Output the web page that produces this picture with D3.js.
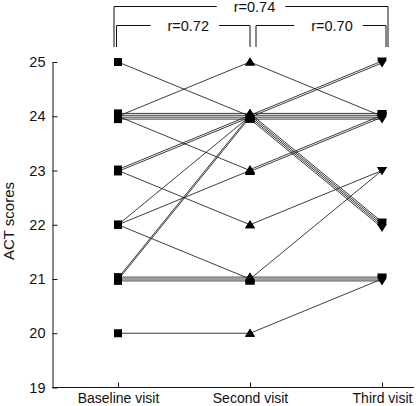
<!DOCTYPE html>
<html>
<head>
<meta charset="utf-8">
<script src="https://cdn.jsdelivr.net/npm/d3@7"></script>
<style>
  html, body { margin: 0; padding: 0; background: #fff; }
  svg { display: block; font-family: "Liberation Sans", Arial, sans-serif; }
</style>
</head>
<body>
<svg id="chart" width="416" height="406"></svg>
<script>
// ---- data ----
const visits = ["Baseline visit", "Second visit", "Third visit"];
const yTicks = [19, 20, 21, 22, 23, 24, 25];
// ACT scores per patient at each visit
const baseline = [24, 25, 24, 24, 24, 24, 23, 23, 22, 21, 21, 24, 22, 23, 22, 21, 21, 21, 20];
const second   = [25, 24, 24, 24, 24, 24, 24, 24, 24, 24, 24, 23, 23, 22, 21, 21, 21, 21, 20];
const third    = [24, 22, 24, 24, 24, 24, 25, 22, 22, 25, 22, 24, 24, 23, 21, 21, 21, 23, 21];
const corrLabels = ["r=0.74", "r=0.72", "r=0.70"];
const corrPairs = [["Baseline visit", "Third visit"], ["Baseline visit", "Second visit"], ["Second visit", "Third visit"]];
const yTitle = "ACT scores";

// ---- layout ----
const narrow = "'Liberation Sans Narrow', 'Arial Narrow', 'Liberation Sans', Arial, sans-serif";
const svg = d3.select("#chart");
const plotLeft = 52.5, plotBottom = 387.5, plotTop = 62;
const x = d3.scalePoint().domain(visits).range([118, 382]);
const y = d3.scaleLinear().domain([19, 25]).range([plotBottom, plotTop]);

// y axis
const yAxis = d3.axisLeft(y).tickValues(yTicks).tickFormat(d3.format("d"))
  .tickSizeInner(-5).tickSizeOuter(0).tickPadding(7);
const gy = svg.append("g").attr("transform", `translate(${plotLeft},0)`).call(yAxis);
gy.selectAll("text").attr("font-size", 14.5).attr("fill", "#111").attr("font-family", narrow);
gy.selectAll("line,path").attr("stroke", "#111");

// x axis
const xAxis = d3.axisBottom(x).tickSizeInner(-5).tickSizeOuter(0).tickPadding(6);
const gx = svg.append("g").attr("transform", `translate(0,${plotBottom})`).call(xAxis);
gx.select(".domain").remove();
gx.append("line").attr("x1", plotLeft).attr("x2", 414).attr("y1", 0).attr("y2", 0).attr("stroke", "#111");
gx.selectAll("text").attr("font-size", 14).attr("fill", "#111").attr("font-family", narrow);
gx.selectAll(".tick line").attr("stroke", "#111");

// y title
svg.append("text")
  .attr("transform", `translate(14,221) rotate(-90)`)
  .attr("text-anchor", "middle")
  .attr("font-size", 15).attr("fill", "#111")
  .text(yTitle);

// ---- segments with small offsets for overlapping lines ----
const series = [baseline, second, third];
const segs = [];
for (let v = 0; v < 2; v++) {
  const groups = d3.group(d3.range(baseline.length), i => series[v][i] + "_" + series[v + 1][i]);
  for (const [, idx] of groups) {
    const n = idx.length;
    idx.forEach((i, k) => {
      segs.push({ v, a: series[v][i], b: series[v + 1][i], off: (k - (n - 1) / 2) * 1.9 });
    });
  }
}

const plot = svg.append("g");
plot.selectAll("line.seg").data(segs).join("line")
  .attr("class", "seg")
  .attr("x1", d => x(visits[d.v]))
  .attr("x2", d => x(visits[d.v + 1]))
  .attr("y1", d => y(d.a) + d.off)
  .attr("y2", d => y(d.b) + d.off)
  .attr("stroke", "#1a1a1a").attr("stroke-width", 0.85);

// markers
const marks = [];
segs.forEach(s => {
  marks.push({ v: s.v, val: s.a, off: s.off });
  marks.push({ v: s.v + 1, val: s.b, off: s.off });
});
function shape(v) {
  if (v === 0) return "M-4,-4H4V4H-4Z";
  if (v === 1) return "M0,-4.5L5,3.5L-5,3.5Z";
  return "M-5,-3.5L5,-3.5L0,4.5Z";
}
plot.selectAll("path.mk").data(marks).join("path")
  .attr("class", "mk")
  .attr("d", d => shape(d.v))
  .attr("transform", d => `translate(${x(visits[d.v])},${y(d.val) + d.off})`)
  .attr("fill", "#000");

// ---- correlation brackets ----
const br = [
  { lx: x(corrPairs[0][0]) - 4, rx: x(corrPairs[0][1]) + 6, ty: 6.5, dx: 3.5 },
  { lx: x(corrPairs[1][0]) - 1.5, rx: x(corrPairs[1][1]), ty: 25.5, dx: 5 },
  { lx: x(corrPairs[2][0]) + 6, rx: x(corrPairs[2][1]) + 4, ty: 25.5, dx: 11 }
];
const by = 47;
br.forEach((b, i) => {
  const cx = (b.lx + b.rx) / 2 + b.dx;
  const t = svg.append("text").attr("x", cx).attr("y", b.ty + 5)
    .attr("text-anchor", "middle").attr("font-size", 14.5).attr("fill", "#111")
    .attr("font-family", narrow)
    .text(corrLabels[i]);
  const bb = t.node().getBBox();
  const g1 = bb.x - 17, g2 = bb.x + bb.width + 10;
  svg.append("path")
    .attr("d", `M${b.lx},${by}V${b.ty}H${g1}M${g2},${b.ty}H${b.rx}V${by}`)
    .attr("fill", "none").attr("stroke", "#111").attr("stroke-width", 1);
});
</script>
</body>
</html>
